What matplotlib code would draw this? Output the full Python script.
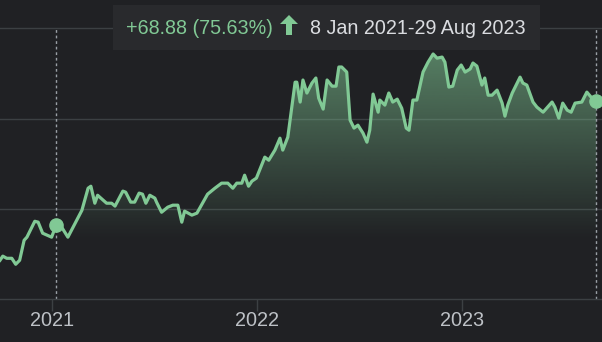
import numpy as np
import pandas as pd
import matplotlib
matplotlib.use("Agg")
import matplotlib.pyplot as plt
import matplotlib.dates as mdates
from matplotlib.patches import Rectangle, Polygon

# price series
dates = [
    "2020-09-30", "2020-10-05", "2020-10-12", "2020-10-21", "2020-10-28", "2020-11-04",
    "2020-11-12", "2020-11-17", "2020-12-01", "2020-12-07", "2020-12-15", "2020-12-31",
    "2021-01-08", "2021-01-18", "2021-01-29", "2021-02-23", "2021-03-06", "2021-03-11",
    "2021-03-18", "2021-03-23", "2021-04-08", "2021-04-17", "2021-04-23", "2021-05-07",
    "2021-05-12", "2021-05-21", "2021-05-28", "2021-06-05", "2021-06-11", "2021-06-17",
    "2021-06-24", "2021-07-03", "2021-07-06", "2021-07-15", "2021-07-26", "2021-08-04",
    "2021-08-13", "2021-08-20", "2021-08-25", "2021-09-07", "2021-09-16", "2021-09-26",
    "2021-10-05", "2021-10-18", "2021-10-30", "2021-11-10", "2021-11-19", "2021-11-26",
    "2021-12-05", "2021-12-10", "2021-12-17", "2021-12-23", "2021-12-31", "2022-01-15",
    "2022-01-22", "2022-02-02", "2022-02-11", "2022-02-16", "2022-02-25", "2022-03-10",
    "2022-03-13", "2022-03-19", "2022-03-24", "2022-03-31", "2022-04-09", "2022-04-16",
    "2022-04-21", "2022-04-29", "2022-05-06", "2022-05-15", "2022-05-22", "2022-05-27",
    "2022-06-01", "2022-06-10", "2022-06-16", "2022-06-23", "2022-06-30", "2022-07-09",
    "2022-07-16", "2022-07-21", "2022-07-27", "2022-08-05", "2022-08-08", "2022-08-17",
    "2022-08-24", "2022-08-31", "2022-09-08", "2022-09-16", "2022-09-24", "2022-09-29",
    "2022-10-06", "2022-10-13", "2022-10-24", "2022-11-02", "2022-11-11", "2022-11-18",
    "2022-11-27", "2022-12-02", "2022-12-09", "2022-12-16", "2022-12-24", "2022-12-31",
    "2023-01-07", "2023-01-16", "2023-01-21", "2023-01-28", "2023-02-06", "2023-02-11",
    "2023-02-17", "2023-02-24", "2023-03-05", "2023-03-14", "2023-03-19", "2023-03-24",
    "2023-04-01", "2023-04-15", "2023-04-20", "2023-04-27", "2023-05-08", "2023-05-15",
    "2023-05-26", "2023-06-11", "2023-06-16", "2023-06-23", "2023-06-30", "2023-07-08",
    "2023-07-15", "2023-07-22", "2023-08-03", "2023-08-12", "2023-08-21", "2023-08-29",
]
prices = [
    71.6, 73.9, 72.7, 72.7, 69.4, 71.6,
    82.7, 84.4, 93.2, 92.7, 86.6, 84.4,
    91.08, 89.9, 84.4, 99.3, 111.5, 112.6,
    103.2, 107.6, 103.2, 103.2, 101.6, 109.9,
    109.3, 103.8, 103.8, 108.8, 108.2, 103.2,
    107.6, 106.0, 103.8, 98.2, 101.0, 102.1,
    102.1, 92.7, 98.8, 96.6, 97.7, 103.2,
    108.2, 111.5, 114.3, 114.3, 111.5, 114.3,
    114.3, 118.7, 112.6, 115.4, 117.1, 128.7,
    127.0, 132.6, 139.2, 132.6, 139.8, 170.2,
    170.2, 159.2, 171.4, 164.2, 169.7, 172.5,
    161.4, 155.3, 171.4, 168.0, 168.0, 178.6,
    178.6, 175.8, 149.2, 144.8, 146.4, 142.0,
    137.0, 143.6, 163.6, 153.6, 160.3, 157.5,
    164.2, 159.2, 160.8, 155.8, 144.8, 143.6,
    160.3, 160.3, 175.8, 181.3, 185.8, 183.5,
    184.1, 181.3, 167.5, 168.0, 176.9, 179.7,
    175.8, 177.5, 180.8, 179.1, 168.6, 172.5,
    163.0, 163.0, 165.8, 158.6, 151.4, 157.5,
    164.2, 173.0, 169.7, 168.6, 159.2, 156.4,
    153.6, 159.2, 156.4, 150.3, 158.6, 154.7,
    153.6, 158.6, 159.2, 164.7, 161.4, 159.96,
]

range_dates = ["2021-01-08", "2023-08-29"]
range_prices = [91.08, 159.96]
year_ticks = ["2021-01-01", "2022-01-01", "2023-01-01"]
year_labels = ["2021", "2022", "2023"]
grid_levels = [100, 150, 200]
change_text = "+68.88 (75.63%)"
range_text = "8 Jan 2021-29 Aug 2023"

bg = "#202124"
green = "#81c995"
grid_c = "#3c4043"

plt.rcParams["font.family"] = ["Liberation Sans", "DejaVu Sans"]

W, H = 602, 342
fig = plt.figure(figsize=(W / 100, H / 100), dpi=100, facecolor=bg)
ax = fig.add_axes([0, 42.7 / H, 1, 299.3 / H])
ax.set_facecolor(bg)

x = mdates.date2num(pd.to_datetime(dates))
y = np.array(prices)
x0 = mdates.date2num(pd.Timestamp("2020-09-30"))
x1 = mdates.date2num(pd.Timestamp("2023-09-08"))
ymin, ymax = 50, 215.7

# gradient fill under the line
grad = np.zeros((256, 1, 4))
grad[..., :3] = matplotlib.colors.to_rgb(green)
rows = np.linspace(ymax, ymin, 256)
grad[:, 0, 3] = np.clip(0.42 * (rows - 82.7) / (160.2 - 82.7), 0, 0.55)
im = ax.imshow(grad, extent=[x0, x1, ymin, ymax], aspect="auto", origin="upper", zorder=1)
area = ax.fill_between(x, y, ymin, facecolor="none", edgecolor="none")
im.set_clip_path(area.get_paths()[0], transform=ax.transData)

for lvl in grid_levels:
    ax.axhline(lvl, color=grid_c, lw=1, zorder=0.5)

ax.plot(x, y, color=green, lw=2.3, zorder=3, solid_joinstyle="round")

rx = mdates.date2num(pd.to_datetime(range_dates))
ax.vlines(rx, ymin, 200, colors="#9aa0a6", linestyles=(0, (2, 2)), lw=1, zorder=2)
ax.plot(rx, range_prices, "o", ms=9.5, color=green, zorder=4)

ax.set_xlim(x0, x1)
ax.set_ylim(ymin, ymax)
ax.set_xticks(mdates.date2num(pd.to_datetime(year_ticks)))
ax.set_xticklabels(year_labels)
ax.set_yticks([])
ax.tick_params(axis="x", colors=grid_c, length=8.6, width=1, labelcolor="#bdc1c6",
               labelsize=14.3, pad=0)
for s in ["top", "left", "right"]:
    ax.spines[s].set_visible(False)
ax.spines["bottom"].set_color(grid_c)
ax.spines["bottom"].set_linewidth(1)


def fx(px):
    return px / W


def fy(py):
    return 1 - py / H


# tooltip box
fig.add_artist(Rectangle((fx(113), fy(50)), fx(540) - fx(113), fy(5) - fy(50),
                         transform=fig.transFigure, facecolor="#292a2d",
                         edgecolor="none", zorder=5))
fig.text(fx(126), fy(28.5), change_text, color=green, fontsize=14.2,
         ha="left", va="center", zorder=6)
arrow = [(280, 24), (289, 15), (298, 24), (292, 24), (292, 35), (286, 35), (286, 24)]
fig.add_artist(Polygon([(fx(a), fy(b)) for a, b in arrow], closed=True,
                       transform=fig.transFigure, facecolor=green,
                       edgecolor="none", zorder=6))
fig.text(fx(310), fy(28.5), range_text, color="#dadce0", fontsize=14.2,
         ha="left", va="center", zorder=6)

fig.savefig("out.png", dpi=100, facecolor=bg)
